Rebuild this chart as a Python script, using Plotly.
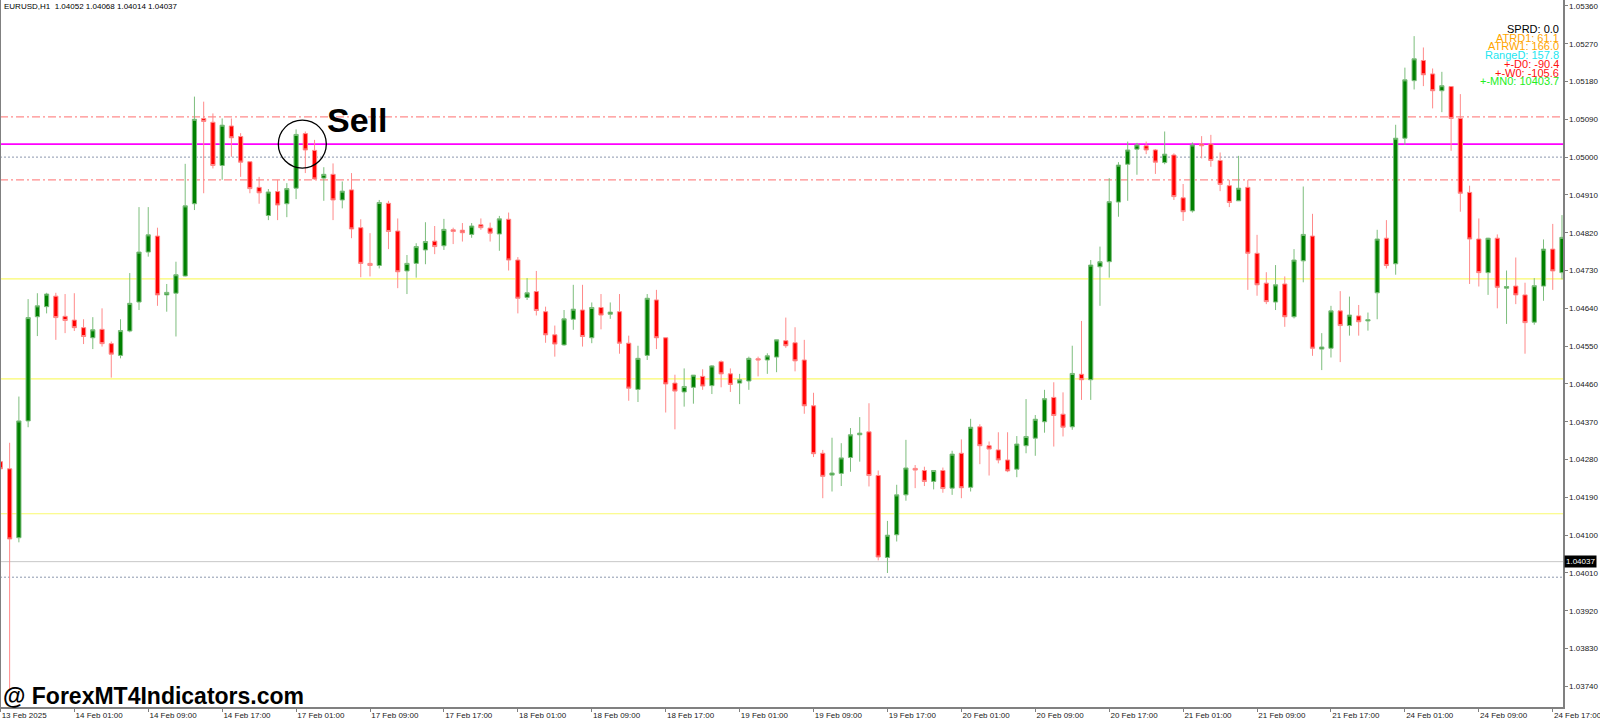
import plotly.graph_objects as go

# ---------------- data (EURUSD H1) ----------------
opens = [1.04275, 1.04258, 1.04094, 1.04372, 1.04620, 1.04644, 1.04669, 1.04621, 1.04612, 1.04594,
         1.04570, 1.04590, 1.04556, 1.04528, 1.04586, 1.04655, 1.04774, 1.04812, 1.04672, 1.04676,
         1.04717, 1.04889, 1.05092, 1.05083, 1.04980, 1.05074, 1.05049, 1.04989, 1.04928, 1.04861,
         1.04918, 1.04889, 1.04926, 1.05056, 1.05016, 1.04950, 1.04959, 1.04898, 1.04922, 1.04832,
         1.04747, 1.04742, 1.04890, 1.04824, 1.04729, 1.04747, 1.04779, 1.04800, 1.04789, 1.04827,
         1.04826, 1.04816, 1.04839, 1.04831, 1.04817, 1.04852, 1.04755, 1.04666, 1.04680, 1.04632,
         1.04577, 1.04553, 1.04614, 1.04636, 1.04570, 1.04642, 1.04626, 1.04632, 1.04557, 1.04447,
         1.04528, 1.04660, 1.04570, 1.04462, 1.04441, 1.04452, 1.04478, 1.04456, 1.04513, 1.04484,
         1.04462, 1.04467, 1.04520, 1.04517, 1.04524, 1.04563, 1.04558, 1.04517, 1.04408, 1.04295,
         1.04243, 1.04247, 1.04285, 1.04339, 1.04346, 1.04242, 1.04047, 1.04101, 1.04196, 1.04259,
         1.04254, 1.04228, 1.04254, 1.04212, 1.04295, 1.04214, 1.04358, 1.04313, 1.04303, 1.04279,
         1.04257, 1.04313, 1.04331, 1.04370, 1.04428, 1.04388, 1.04358, 1.04483, 1.04470, 1.04739,
         1.04751, 1.04893, 1.04983, 1.05019, 1.05027, 1.05017, 1.04987, 1.05005, 1.04903, 1.04872,
         1.05031, 1.05031, 1.04992, 1.04932, 1.04896, 1.04928, 1.04771, 1.04700, 1.04655, 1.04698,
         1.04620, 1.04753, 1.04812, 1.04543, 1.04545, 1.04634, 1.04599, 1.04622, 1.04610, 1.04677,
         1.04807, 1.04746, 1.05045, 1.05182, 1.05230, 1.05198, 1.05158, 1.05168, 1.05092, 1.04916,
         1.04805, 1.04725, 1.04807, 1.04688, 1.04693, 1.04672, 1.04607, 1.04693, 1.04781, 1.04725]
highs = [1.04394, 1.04320, 1.04430, 1.04662, 1.04676, 1.04677, 1.04677, 1.04674, 1.04676, 1.04614,
         1.04619, 1.04640, 1.04561, 1.04614, 1.04724, 1.04881, 1.04881, 1.04832, 1.04698, 1.04751,
         1.04984, 1.05144, 1.05132, 1.05104, 1.05092, 1.05092, 1.05057, 1.04989, 1.04953, 1.04924,
         1.04946, 1.04938, 1.05066, 1.05061, 1.05041, 1.04976, 1.04985, 1.04942, 1.04962, 1.04852,
         1.04819, 1.04898, 1.04896, 1.04854, 1.04767, 1.04795, 1.04845, 1.04836, 1.04853, 1.04832,
         1.04843, 1.04843, 1.04854, 1.04844, 1.04860, 1.04868, 1.04762, 1.04712, 1.04729, 1.04644,
         1.04599, 1.04636, 1.04696, 1.04696, 1.04654, 1.04674, 1.04654, 1.04674, 1.04575, 1.04551,
         1.04674, 1.04684, 1.04570, 1.04482, 1.04497, 1.04481, 1.04495, 1.04505, 1.04516, 1.04497,
         1.04484, 1.04525, 1.04525, 1.04533, 1.04565, 1.04618, 1.04595, 1.04565, 1.04439, 1.04303,
         1.04332, 1.04319, 1.04355, 1.04381, 1.04414, 1.04254, 1.04134, 1.04220, 1.04327, 1.04267,
         1.04263, 1.04255, 1.04261, 1.04301, 1.04328, 1.04377, 1.04364, 1.04323, 1.04345, 1.04345,
         1.04336, 1.04424, 1.04386, 1.04446, 1.04464, 1.04440, 1.04551, 1.04610, 1.04755, 1.04787,
         1.04950, 1.04988, 1.05037, 1.05034, 1.05037, 1.05019, 1.05061, 1.05009, 1.04936, 1.05035,
         1.05050, 1.05053, 1.05011, 1.04946, 1.05003, 1.04946, 1.04815, 1.04726, 1.04743, 1.04716,
         1.04781, 1.04930, 1.04865, 1.04581, 1.04646, 1.04681, 1.04668, 1.04648, 1.04630, 1.04827,
         1.04850, 1.05077, 1.05213, 1.05288, 1.05261, 1.05211, 1.05203, 1.05168, 1.05150, 1.04932,
         1.04854, 1.04808, 1.04816, 1.04730, 1.04761, 1.04701, 1.04712, 1.04804, 1.04841, 1.04862]
lows = [1.04251, 1.03729, 1.04083, 1.04357, 1.04574, 1.04628, 1.04565, 1.04581, 1.04586, 1.04555,
        1.04543, 1.04549, 1.04475, 1.04521, 1.04583, 1.04636, 1.04763, 1.04646, 1.04632, 1.04573,
        1.04716, 1.04874, 1.04914, 1.04973, 1.04946, 1.05001, 1.04953, 1.04914, 1.04889, 1.04850,
        1.04850, 1.04857, 1.04900, 1.04962, 1.04946, 1.04896, 1.04850, 1.04878, 1.04807, 1.04714,
        1.04716, 1.04735, 1.04781, 1.04688, 1.04674, 1.04713, 1.04745, 1.04769, 1.04779, 1.04793,
        1.04799, 1.04808, 1.04827, 1.04799, 1.04777, 1.04730, 1.04628, 1.04660, 1.04623, 1.04558,
        1.04525, 1.04551, 1.04589, 1.04549, 1.04557, 1.04590, 1.04615, 1.04532, 1.04420, 1.04417,
        1.04517, 1.04543, 1.04392, 1.04352, 1.04406, 1.04413, 1.04446, 1.04436, 1.04452, 1.04441,
        1.04412, 1.04446, 1.04478, 1.04484, 1.04488, 1.04546, 1.04490, 1.04389, 1.04286, 1.04188,
        1.04204, 1.04217, 1.04251, 1.04275, 1.04216, 1.04040, 1.04010, 1.04085, 1.04182, 1.04212,
        1.04217, 1.04209, 1.04201, 1.04196, 1.04188, 1.04204, 1.04269, 1.04242, 1.04271, 1.04250,
        1.04238, 1.04295, 1.04289, 1.04344, 1.04311, 1.04335, 1.04351, 1.04422, 1.04422, 1.04646,
        1.04713, 1.04858, 1.04896, 1.04958, 1.05007, 1.04960, 1.04983, 1.04898, 1.04848, 1.04868,
        1.04997, 1.04977, 1.04919, 1.04881, 1.04896, 1.04684, 1.04670, 1.04650, 1.04636, 1.04596,
        1.04616, 1.04702, 1.04527, 1.04493, 1.04523, 1.04512, 1.04575, 1.04575, 1.04587, 1.04614,
        1.04735, 1.04720, 1.05029, 1.05161, 1.05169, 1.05116, 1.05107, 1.05015, 1.04870, 1.04698,
        1.04692, 1.04672, 1.04640, 1.04603, 1.04650, 1.04532, 1.04601, 1.04658, 1.04684, 1.04709]
closes = [1.04258, 1.04091, 1.04372, 1.04618, 1.04646, 1.04674, 1.04618, 1.04611, 1.04594, 1.04573,
          1.04589, 1.04556, 1.04531, 1.04587, 1.04652, 1.04774, 1.04815, 1.04672, 1.04678, 1.04720,
          1.04884, 1.05090, 1.05085, 1.04980, 1.05076, 1.05046, 1.04988, 1.04925, 1.04915, 1.04917,
          1.04886, 1.04925, 1.05054, 1.05017, 1.04948, 1.04959, 1.04898, 1.04919, 1.04829, 1.04747,
          1.04742, 1.04892, 1.04823, 1.04727, 1.04747, 1.04787, 1.04799, 1.04787, 1.04828, 1.04823,
          1.04820, 1.04836, 1.04832, 1.04819, 1.04853, 1.04755, 1.04664, 1.04677, 1.04635, 1.04577,
          1.04555, 1.04615, 1.04638, 1.04573, 1.04642, 1.04624, 1.04631, 1.04557, 1.04450, 1.04521,
          1.04664, 1.04570, 1.04460, 1.04443, 1.04454, 1.04481, 1.04455, 1.04503, 1.04484, 1.04459,
          1.04470, 1.04521, 1.04517, 1.04527, 1.04565, 1.04551, 1.04515, 1.04408, 1.04294, 1.04240,
          1.04248, 1.04284, 1.04339, 1.04343, 1.04242, 1.04048, 1.04100, 1.04196, 1.04260, 1.04255,
          1.04228, 1.04254, 1.04211, 1.04293, 1.04213, 1.04357, 1.04313, 1.04305, 1.04279, 1.04253,
          1.04317, 1.04335, 1.04376, 1.04425, 1.04385, 1.04357, 1.04485, 1.04470, 1.04743, 1.04751,
          1.04894, 1.04981, 1.05017, 1.05029, 1.05017, 1.04988, 1.05007, 1.04906, 1.04870, 1.05029,
          1.05027, 1.04992, 1.04935, 1.04892, 1.04926, 1.04771, 1.04696, 1.04656, 1.04696, 1.04620,
          1.04755, 1.04816, 1.04545, 1.04548, 1.04634, 1.04599, 1.04624, 1.04608, 1.04613, 1.04805,
          1.04742, 1.05045, 1.05184, 1.05234, 1.05196, 1.05158, 1.05170, 1.05092, 1.04914, 1.04805,
          1.04725, 1.04807, 1.04690, 1.04692, 1.04672, 1.04606, 1.04694, 1.04781, 1.04729, 1.04809]

tick_labels = ["13 Feb 2025", "14 Feb 01:00", "14 Feb 09:00", "14 Feb 17:00", "17 Feb 01:00",
               "17 Feb 09:00", "17 Feb 17:00", "18 Feb 01:00", "18 Feb 09:00", "18 Feb 17:00",
               "19 Feb 01:00", "19 Feb 09:00", "19 Feb 17:00", "20 Feb 01:00", "20 Feb 09:00",
               "20 Feb 17:00", "21 Feb 01:00", "21 Feb 09:00", "21 Feb 17:00", "24 Feb 01:00",
               "24 Feb 09:00", "24 Feb 17:00"]
tick_step = 8  # one label every 8 hourly bars

price_ticks = [1.03740, 1.03830, 1.03920, 1.04010, 1.04100, 1.04190, 1.04280, 1.04370, 1.04460,
               1.04550, 1.04640, 1.04730, 1.04820, 1.04910, 1.05000, 1.05090, 1.05180, 1.05270, 1.05360]

# horizontal indicator levels
dashdot_levels = [1.05096, 1.04946]
magenta_levels = [1.05031]
dotted_levels = [1.05000, 1.04000]
yellow_levels = [1.04710, 1.04472, 1.04151]
bid_price = 1.04037

header_text = "EURUSD,H1  1.04052 1.04068 1.04014 1.04037"
info_labels = ["SPRD: 0.0", "ATRD1: 61.1", "ATRW1: 166.0", "RangeD: 157.8",
               "+-D0: -90.4", "+-W0: -105.6", "+-MN0: 10403.7"]
info_colors = ["#000000", "#FFA500", "#FFA500", "#22E6F0", "#FF1010", "#FF1010", "#22EE22"]
sell_bar = 33
watermark = "@ ForexMT4Indicators.com"

# ---------------- figure ----------------
x_idx = list(range(len(opens)))

fig = go.Figure()
fig.add_trace(go.Candlestick(
    x=x_idx, open=opens, high=highs, low=lows, close=closes,
    increasing=dict(line=dict(color="#7DBE7D", width=1), fillcolor="#008000"),
    decreasing=dict(line=dict(color="#FF8A8A", width=1), fillcolor="#FF0000"),
    whiskerwidth=0, showlegend=False, hoverinfo="skip",
))

shapes = []
def hline(level, color, width, dash):
    shapes.append(dict(type="line", xref="paper", x0=0, x1=1, yref="y", y0=level, y1=level,
                       line=dict(color=color, width=width, dash=dash), layer="below"))

for lv in yellow_levels:
    hline(lv, "#FAFA6E", 1.2, "solid")
for lv in dotted_levels:
    hline(lv, "#8C97AD", 1, "2px,2px")
for lv in dashdot_levels:
    hline(lv, "#FF8C8C", 1.2, "8px,3px,2px,3px")
for lv in magenta_levels:
    hline(lv, "#FF00FF", 1.6, "solid")
hline(bid_price, "#C8C8C8", 1, "solid")

# left chart border
shapes.append(dict(type="line", xref="paper", x0=0, x1=0, yref="paper", y0=0, y1=1,
                   line=dict(color="#808080", width=2)))

# circle around the sell bar
shapes.append(dict(type="circle", xref="x", xsizemode="pixel", xanchor=sell_bar, x0=-27, x1=21,
                   yref="y", ysizemode="pixel", yanchor=magenta_levels[0], y0=-24, y1=24,
                   line=dict(color="#000000", width=1.3), fillcolor="rgba(0,0,0,0)"))

annotations = []
annotations.append(dict(text=header_text, xref="paper", yref="paper", x=0, y=1,
                        xanchor="left", yanchor="top", xshift=2, yshift=0, showarrow=False,
                        font=dict(family="Liberation Sans", size=8, color="#000000")))
for k, (t, c) in enumerate(zip(info_labels, info_colors)):
    annotations.append(dict(text=t, xref="paper", yref="paper", x=1, y=1, xanchor="right",
                            yanchor="middle", xshift=-2, yshift=-(29 + 8.7 * k), showarrow=False,
                            font=dict(family="Liberation Sans", size=11, color=c)))
annotations.append(dict(text="<b>Sell</b>", xref="x", yref="y", x=sell_bar, y=magenta_levels[0],
                        xanchor="left", yanchor="middle", xshift=20, yshift=24, showarrow=False,
                        font=dict(family="Liberation Sans", size=34, color="#000000")))
annotations.append(dict(text="<b>" + watermark + "</b>", xref="paper", yref="paper", x=0, y=0,
                        xanchor="left", yanchor="middle", xshift=1, yshift=11, showarrow=False,
                        font=dict(family="Liberation Sans", size=23, color="#000000")))
annotations.append(dict(text=f"{bid_price:.5f}", xref="paper", yref="y", x=1, y=bid_price,
                        xanchor="left", yanchor="middle", xshift=1, showarrow=False,
                        bgcolor="#000000", borderpad=1,
                        font=dict(family="Liberation Sans", size=8, color="#FFFFFF")))

fig.update_layout(
    template="none",
    width=1600, height=722,
    margin=dict(l=0, r=37, t=0, b=15),
    paper_bgcolor="#FFFFFF", plot_bgcolor="#FFFFFF",
    boxgap=0.35,
    showlegend=False,
    shapes=shapes, annotations=annotations,
    xaxis=dict(
        range=[-0.043, 169.11], rangeslider=dict(visible=False),
        tickmode="array", tickvals=list(range(0, len(tick_labels) * tick_step, tick_step)),
        ticktext=tick_labels, ticks="outside", ticklen=3, tickcolor="#808080",
        ticklabelposition="outside right", ticklabeloverflow="allow",
        tickfont=dict(family="Liberation Sans", size=8, color="#202020"),
        showline=True, linecolor="#808080", linewidth=1.5, showgrid=False, zeroline=False,
        automargin=False, fixedrange=True,
    ),
    yaxis=dict(
        side="right", range=[1.03691, 1.05374],
        tickmode="array", tickvals=price_ticks, ticktext=[f"{v:.5f}" for v in price_ticks],
        ticks="outside", ticklen=3, tickcolor="#808080",
        tickfont=dict(family="Liberation Sans", size=8, color="#202020"),
        showline=True, linecolor="#808080", linewidth=1.5, showgrid=False, zeroline=False,
        automargin=False, fixedrange=True,
    ),
)

fig.write_html(
    "out.html",
    config={"displayModeBar": False, "staticPlot": True},
    post_script="document.body.style.margin='0';document.body.style.overflow='hidden';",
)
